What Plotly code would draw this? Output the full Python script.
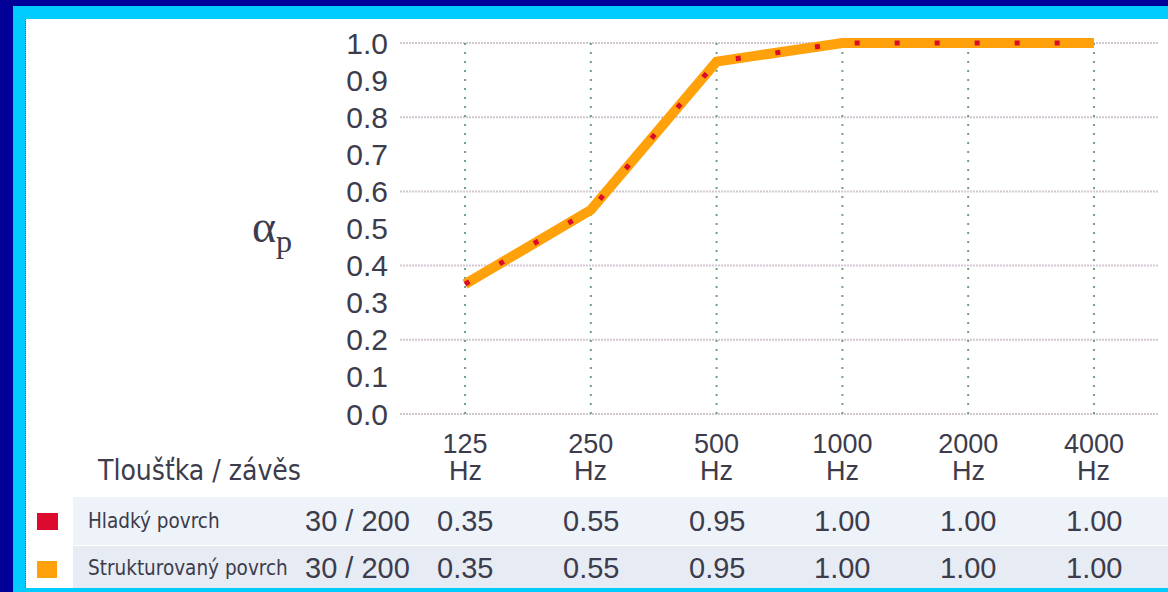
import plotly.graph_objects as go

# ---- data ----
freqs = ["125", "250", "500", "1000", "2000", "4000"]
freq_unit = "Hz"
series_names = ["Hladký povrch", "Strukturovaný povrch"]
thickness = ["30 / 200", "30 / 200"]
hladky = [0.35, 0.55, 0.95, 1.00, 1.00, 1.00]
strukturovany = [0.35, 0.55, 0.95, 1.00, 1.00, 1.00]
table_header = "Tloušťka / závěs"
y_ticks = [0.0, 0.1, 0.2, 0.3, 0.4, 0.5, 0.6, 0.7, 0.8, 0.9, 1.0]
y_grid = [0.0, 0.2, 0.4, 0.6, 0.8, 1.0]
y_title = "α<sub>p</sub>"

# ---- styling ----
W, H = 1168, 592
L, R, T, B = 400, 10, 21, 167
RED = "#DC0A2C"
ORANGE = "#FFA10A"
TXT = "#3c3c4c"
FONT = "DejaVu Sans Condensed, Liberation Sans, Arial"
FONT2 = "Liberation Sans, Arial"

pw, ph = W - L - R, H - T - B


def px(x):
    return (x - L) / pw


def py(y):
    return 1 - (y - T) / ph


fig = go.Figure()
fig.add_trace(go.Scatter(x=freqs, y=strukturovany, mode="lines", name=series_names[1],
                         line=dict(color=ORANGE, width=10), hoverinfo="skip"))
fig.add_trace(go.Scatter(x=freqs, y=hladky, mode="lines", name=series_names[0],
                         line=dict(color=RED, width=5, dash="5px,35px"), hoverinfo="skip"))

shapes = []
# frame
shapes.append(dict(type="rect", xref="paper", yref="paper", x0=px(0), x1=px(W), y0=py(0), y1=py(H),
                   fillcolor="#00CCFF", line_width=0, layer="below"))
shapes.append(dict(type="rect", xref="paper", yref="paper", x0=px(0), x1=px(13), y0=py(0), y1=py(H),
                   fillcolor="#000099", line_width=0, layer="below"))
shapes.append(dict(type="rect", xref="paper", yref="paper", x0=px(0), x1=px(W), y0=py(0), y1=py(6),
                   fillcolor="#000099", line_width=0, layer="below"))
shapes.append(dict(type="rect", xref="paper", yref="paper", x0=px(26), x1=px(W), y0=py(19), y1=py(588),
                   fillcolor="white", line_width=0, layer="below"))
shapes.append(dict(type="line", xref="paper", yref="paper", x0=px(25.5), x1=px(25.5), y0=py(19), y1=py(588),
                   line=dict(color="#556070", width=1, dash="1px,1px"), layer="below"))
# table rows
shapes.append(dict(type="rect", xref="paper", yref="paper", x0=px(73), x1=px(W), y0=py(497), y1=py(545),
                   fillcolor="#EEF2F9", line_width=0, layer="below"))
shapes.append(dict(type="rect", xref="paper", yref="paper", x0=px(73), x1=px(W), y0=py(546), y1=py(588),
                   fillcolor="#E6EBF4", line_width=0, layer="below"))
# legend swatches
shapes.append(dict(type="rect", xref="paper", yref="paper", x0=px(37), x1=px(58), y0=py(513), y1=py(530),
                   fillcolor=RED, line_width=0))
shapes.append(dict(type="rect", xref="paper", yref="paper", x0=px(37), x1=px(57), y0=py(561), y1=py(578),
                   fillcolor=ORANGE, line_width=0))
# grid
for v in y_grid:
    shapes.append(dict(type="line", xref="paper", yref="y", x0=0, x1=1, y0=v, y1=v,
                       line=dict(color="#D2C8D2", width=2, dash="2px,1px"), layer="below"))
for i, f in enumerate(freqs):
    shapes.append(dict(type="line", xref="x", yref="y", x0=i, x1=i, y0=0, y1=1,
                       line=dict(color="#72A088", width=2, dash="2px,7px"), layer="below"))

annotations = []
annotations.append(dict(text=y_title, xref="paper", yref="paper", x=px(272), y=py(230), xanchor="center",
                        yanchor="middle", showarrow=False,
                        font=dict(family="Liberation Serif, DejaVu Serif", size=46, color=TXT)))
annotations.append(dict(text=table_header, xref="paper", yref="paper", x=px(95), y=py(470), xanchor="left",
                        yanchor="middle", showarrow=False, font=dict(family=FONT, size=28, color=TXT)))
for i, f in enumerate(freqs):
    annotations.append(dict(text=freq_unit, xref="x", yref="paper", x=i, y=py(471), xanchor="center",
                            yanchor="middle", showarrow=False, font=dict(family=FONT2, size=27, color=TXT)))
row_y = [521, 568]
for r, (name, th, vals) in enumerate(zip(series_names, thickness, [hladky, strukturovany])):
    annotations.append(dict(text=name, xref="paper", yref="paper", x=px(86), y=py(row_y[r]), xanchor="left",
                            yanchor="middle", showarrow=False, font=dict(family=FONT, size=20.5, color=TXT)))
    annotations.append(dict(text=th, xref="paper", yref="paper", x=px(357), y=py(row_y[r]), xanchor="center",
                            yanchor="middle", showarrow=False, font=dict(family=FONT2, size=29, color=TXT)))
    for i, v in enumerate(vals):
        annotations.append(dict(text=f"{v:.2f}", xref="x", yref="paper", x=i, y=py(row_y[r]),
                                xanchor="center", yanchor="middle", showarrow=False,
                                font=dict(family=FONT2, size=29, color=TXT)))

fig.update_layout(
    width=W, height=H, margin=dict(l=L, r=R, t=T, b=B, pad=0),
    paper_bgcolor="white", plot_bgcolor="white", showlegend=False,
    shapes=shapes, annotations=annotations,
    xaxis=dict(type="category", range=[-0.517, 5.509], showgrid=False, zeroline=False, showline=False,
               ticks="", tickfont=dict(family=FONT2, size=27, color=TXT), fixedrange=True),
    yaxis=dict(range=[-0.0296, 1.0593], tickvals=y_ticks, ticktext=[f"{v:.1f}" for v in y_ticks],
               showgrid=False, zeroline=False, showline=False, ticks="",
               tickfont=dict(family=FONT2, size=30, color=TXT), ticklabelstandoff=11, fixedrange=True),
)

fig.write_html("out.html", config={"displayModeBar": False},
               post_script="document.body.style.margin='0px';")
